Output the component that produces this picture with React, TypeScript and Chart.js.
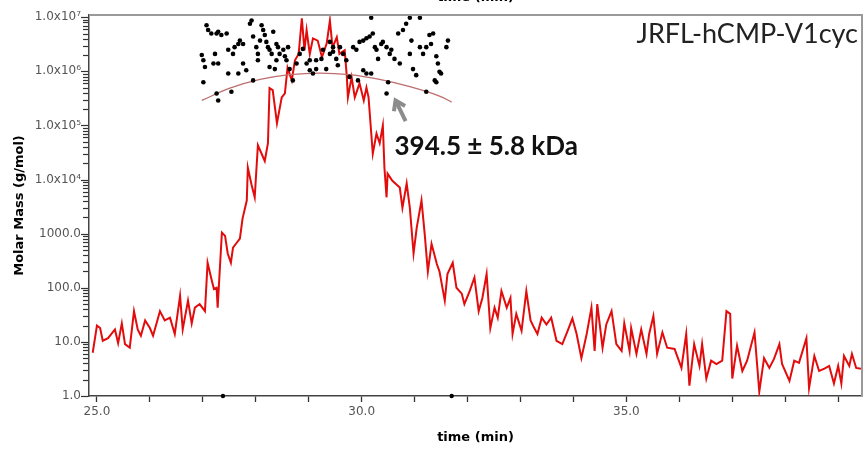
import React, { useEffect, useRef } from 'react';
import { Chart, registerables } from 'chart.js';

Chart.register(...registerables);

// Red trace: molar mass vs elution time
const redTime = [24.92, 25.0, 25.06, 25.11, 25.21, 25.34, 25.4, 25.47, 25.53, 25.62, 25.7, 25.77, 25.83, 25.91, 26.0, 26.06, 26.19, 26.28, 26.38, 26.47, 26.57, 26.62, 26.72, 26.79, 26.85, 26.94, 27.04, 27.09, 27.17, 27.21, 27.26, 27.28, 27.36, 27.42, 27.47, 27.53, 27.57, 27.64, 27.7, 27.75, 27.83, 27.85, 27.92, 27.98, 28.04, 28.11, 28.17, 28.23, 28.26, 28.32, 28.4, 28.49, 28.55, 28.6, 28.68, 28.74, 28.81, 28.87, 28.92, 28.96, 29.02, 29.08, 29.17, 29.25, 29.34, 29.4, 29.45, 29.53, 29.58, 29.68, 29.72, 29.74, 29.81, 29.87, 29.96, 30.04, 30.09, 30.13, 30.21, 30.28, 30.34, 30.4, 30.43, 30.47, 30.49, 30.58, 30.72, 30.77, 30.85, 30.91, 30.98, 31.04, 31.13, 31.19, 31.25, 31.32, 31.42, 31.47, 31.57, 31.62, 31.72, 31.79, 31.89, 31.94, 32.04, 32.13, 32.21, 32.28, 32.36, 32.43, 32.51, 32.57, 32.64, 32.74, 32.81, 32.85, 32.92, 33.02, 33.11, 33.19, 33.26, 33.32, 33.4, 33.49, 33.58, 33.68, 33.79, 33.89, 33.98, 34.06, 34.15, 34.25, 34.34, 34.4, 34.45, 34.55, 34.62, 34.72, 34.81, 34.91, 34.96, 35.06, 35.09, 35.19, 35.28, 35.38, 35.43, 35.51, 35.58, 35.68, 35.77, 35.91, 36.04, 36.13, 36.19, 36.28, 36.38, 36.43, 36.51, 36.6, 36.7, 36.81, 36.89, 36.96, 37.0, 37.09, 37.19, 37.28, 37.42, 37.51, 37.6, 37.7, 37.79, 37.89, 37.94, 38.08, 38.17, 38.26, 38.4, 38.45, 38.55, 38.64, 38.74, 38.83, 38.92, 39.0, 39.06, 39.11, 39.21, 39.26, 39.34, 39.43];
const redMass = [6.3, 20, 18, 10.5, 11.7, 17, 9.5, 22, 9.1, 7.8, 37, 17, 13, 25, 18, 13, 37, 25, 28, 14, 71, 17, 58, 22, 43, 50, 37, 290, 135, 95, 100, 43, 1050, 910, 430, 290, 550, 680, 810, 1900, 4100, 16600, 8000, 4700, 43000, 30000, 22000, 47000, 490000, 450000, 110000, 330000, 390000, 1170000, 680000, 1600000, 2100000, 9500000, 2450000, 5750000, 2100000, 4070000, 3700000, 1820000, 3300000, 8700000, 2750000, 4270000, 2100000, 2450000, 780000, 330000, 780000, 330000, 600000, 290000, 500000, 330000, 30000, 71000, 47000, 100000, 16600, 4700, 12900, 9500, 7100, 3000, 8500, 3000, 430, 1290, 4100, 1000, 200, 650, 275, 200, 58, 180, 290, 100, 78, 50, 87, 155, 37, 65, 180, 18, 43, 28, 87, 43, 65, 14, 33, 16, 87, 25, 18, 14, 28, 21, 28, 10.5, 9.1, 16, 27, 14, 5, 14, 43, 6.8, 50, 7.8, 21, 37, 9.1, 6.8, 22, 6.8, 18, 6.0, 17, 6.0, 14, 30, 6.0, 15, 7.8, 7.4, 3.3, 14, 1.55, 9.1, 3.6, 9.1, 2.1, 4.5, 3.9, 4.5, 37, 33, 2.1, 8.5, 2.9, 4.5, 15, 1.2, 5.0, 3.3, 4.9, 9.1, 3.9, 1.9, 4.5, 4.1, 11.7, 1.4, 5.5, 2.9, 3.2, 3.6, 1.7, 3.6, 1.7, 5.5, 3.6, 6.0, 3.3, 3.2];

// Black dots: per-slice molar mass
const dotTime = [27.07, 27.1, 27.16, 27.26, 27.29, 27.35, 27.45, 26.98, 27.01, 27.04, 27.01, 27.23, 27.2, 27.29, 27.26, 27.29, 27.48, 27.54, 27.57, 27.6, 27.67, 27.7, 27.76, 27.76, 27.82, 27.89, 27.92, 27.95, 28.01, 28.04, 28.08, 28.04, 28.11, 28.14, 28.17, 28.2, 28.23, 28.26, 28.3, 28.33, 28.39, 28.39, 28.42, 28.45, 28.52, 28.55, 28.58, 28.61, 27.95, 27.67, 27.48, 28.26, 28.36, 28.64, 28.77, 28.7, 28.83, 28.89, 28.96, 29.02, 29.14, 29.14, 29.24, 29.33, 29.4, 29.46, 29.52, 29.55, 29.59, 29.65, 29.71, 29.77, 29.84, 29.9, 29.93, 29.96, 30.03, 30.09, 30.15, 30.18, 30.21, 30.25, 30.28, 30.31, 30.37, 30.4, 30.47, 30.53, 30.56, 30.62, 30.69, 30.72, 30.78, 30.84, 30.91, 30.94, 30.97, 31.03, 31.1, 31.1, 31.16, 31.22, 31.28, 31.31, 31.35, 31.41, 31.44, 31.47, 31.5, 31.6, 31.63, 30.5, 30.47, 30.03, 30.09, 30.18, 31.22, 31.38, 31.41, 30.91, 29.4, 29.46, 29.27, 29.02, 29.08];
const dotMass = [7.1e6, 5.8e6, 5.0e6, 5.0e6, 5.4e6, 4.7e6, 5.0e6, 2.0e6, 1.6e6, 1.2e6, 6.3e5, 2.1e6, 1.4e6, 1.4e6, 3.9e5, 2.9e5, 2.5e6, 4.2e5, 2.1e6, 2.8e6, 3.2e6, 3.7e6, 3.2e6, 1.4e6, 1.05e6, 7.6e6, 8.7e6, 4.4e6, 2.8e6, 2.1e6, 3.7e6, 1.6e6, 7.1e6, 5.8e6, 4.7e6, 3.5e6, 2.8e6, 2.5e6, 2.1e6, 5.4e6, 3.2e6, 1.6e6, 2.8e6, 2.1e6, 2.5e6, 1.9e6, 1.6e6, 2.8e6, 6.8e5, 9.1e5, 9.1e5, 1.2e6, 1.1e6, 1.1e6, 1.4e6, 6.8e5, 2.1e6, 2.6e6, 1.4e6, 1.6e6, 1.1e6, 1.6e6, 1.7e6, 1.1e6, 2.1e6, 2.3e6, 1.7e6, 1.3e6, 2.8e6, 2.1e6, 1.6e6, 7.9e5, 2.8e6, 2.5e6, 6.8e5, 3.5e6, 3.7e6, 4.1e6, 4.4e6, 9.8e6, 5.0e6, 2.8e6, 2.5e6, 1.7e6, 3.2e6, 3.5e6, 2.8e6, 2.1e6, 2.5e6, 1.7e6, 5.0e6, 1.4e6, 5.8e6, 7.6e6, 9.8e6, 3.7e6, 1.1e6, 8.5e5, 9.8e6, 2.8e6, 2.1e6, 2.8e6, 4.7e6, 3.2e6, 5.0e6, 1.9e6, 1.4e6, 9.8e5, 9.1e5, 2.8e6, 3.7e6, 6.3e5, 3.9e5, 1.05e6, 9.1e5, 9.1e5, 4.2e5, 6.8e5, 6.3e5, 2.1e6, 3.5e6, 2.8e6, 2.5e6, 1.05e6, 9.1e5];

// Fitted curve across the peak
const fitTime = [26.98, 27.51, 28.08, 28.64, 29.21, 29.77, 30.34, 30.91, 31.47, 31.7];
const fitMass = [2.9e5, 4.9e5, 7.1e5, 8.7e5, 9.3e5, 8.7e5, 7.1e5, 5.2e5, 3.5e5, 2.7e5];

// Peak-limit marks on the time axis
const markTime = [27.38, 31.7];
const markMass = [1, 1];

// Axis ticks
const yTickValues = [1, 10, 100, 1000, 1e4, 1e5, 1e6, 1e7];
const yTickLabels = ['1.0', '10.0', '100.0', '1000.0', '1.0x10\u2074', '1.0x10\u2075', '1.0x10\u2076', '1.0x10\u2077'];
const yMinorSteps = [2, 3, 4, 5, 6, 7, 8, 9];
const xTickValues = [25, 30, 35];
const xTickLabels = ['25.0', '30.0', '35.0'];

// Texts and annotation anchors (data units)
const sampleName = 'JRFL-hCMP-V1cyc';
const massAnnotation = '394.5 \u00B1 5.8 kDa';
const annotationAnchor = [30.62, 2.8e4];
const arrowTail = [30.83, 1.2e5];
const arrowHead = [30.64, 2.9e5];
const xTitle = 'time (min)';
const yTitle = 'Molar Mass (g/mol)';

const toPoints = (xs: number[], ys: number[]) => xs.map((x, i) => ({ x, y: ys[i] }));

const overlayPlugin = {
  id: 'overlay',
  afterDatasetsDraw(chart: any) {
    const { ctx, chartArea, scales } = chart;
    ctx.save();
    ctx.strokeStyle = '#9a9a9a';
    ctx.lineWidth = 2;
    ctx.beginPath();
    ctx.moveTo(chartArea.left, chartArea.top);
    ctx.lineTo(chartArea.right, chartArea.top);
    ctx.lineTo(chartArea.right, chartArea.bottom);
    ctx.stroke();
    ctx.restore();
  },
  afterDraw(chart: any) {
    const { ctx, chartArea, scales } = chart;
    const xs = scales.x;
    const ys = scales.y;
    ctx.save();
    // y-axis tick comb (major + minor), placed through the log scale
    ctx.strokeStyle = '#333';
    ctx.lineWidth = 1.2;
    const x0 = ys.right - 1;
    const drawTick = (v: number, len: number) => {
      const py = Math.round(ys.getPixelForValue(v)) + 0.5;
      ctx.beginPath();
      ctx.moveTo(x0, py);
      ctx.lineTo(x0 - len, py);
      ctx.stroke();
    };
    yTickValues.forEach((d) => {
      drawTick(d, 7);
      if (d < 1e7) yMinorSteps.forEach((m) => drawTick(d * m, 5));
    });

    // cut-off duplicate axis title at the very top
    ctx.fillStyle = '#000';
    ctx.font = 'bold 13px "DejaVu Sans"';
    ctx.textAlign = 'center';
    ctx.textBaseline = 'middle';
    ctx.fillText(xTitle, (chartArea.left + chartArea.right) / 2, -2);

    // sample name
    ctx.fillStyle = '#222';
    ctx.font = '27px Lato';
    ctx.textAlign = 'right';
    ctx.textBaseline = 'alphabetic';
    ctx.fillText(sampleName, chartArea.right - 4, 43);

    // arrow
    const tx = xs.getPixelForValue(arrowTail[0]);
    const ty = ys.getPixelForValue(arrowTail[1]);
    const hx = xs.getPixelForValue(arrowHead[0]);
    const hy = ys.getPixelForValue(arrowHead[1]);
    ctx.strokeStyle = '#8c8c8c';
    ctx.lineWidth = 4;
    ctx.lineCap = 'butt';
    ctx.lineJoin = 'miter';
    ctx.beginPath();
    ctx.moveTo(tx, ty);
    ctx.lineTo(hx, hy);
    ctx.stroke();
    const ang = Math.atan2(hy - ty, hx - tx);
    const L = 11;
    ctx.beginPath();
    ctx.moveTo(hx - L * Math.cos(ang - 0.6), hy - L * Math.sin(ang - 0.6));
    ctx.lineTo(hx, hy);
    ctx.lineTo(hx - L * Math.cos(ang + 0.6), hy - L * Math.sin(ang + 0.6));
    ctx.stroke();

    // annotation text
    ctx.fillStyle = '#111';
    ctx.font = 'bold 26px Lato';
    ctx.textAlign = 'left';
    ctx.textBaseline = 'alphabetic';
    ctx.fillText(massAnnotation, xs.getPixelForValue(annotationAnchor[0]), ys.getPixelForValue(annotationAnchor[1]));
    ctx.restore();
  },
};

export default function App() {
  const ref = useRef<HTMLCanvasElement | null>(null);
  useEffect(() => {
    if (!ref.current) return;
    const chart = new Chart(ref.current, {
      type: 'scatter',
      data: {
        datasets: [
          {
            label: 'marks',
            data: toPoints(markTime, markMass),
            showLine: false,
            pointRadius: 2.2,
            pointBackgroundColor: '#000',
            pointBorderWidth: 0,
            clip: false,
            order: 0,
          },
          {
            label: 'slices',
            data: toPoints(dotTime, dotMass),
            showLine: false,
            pointRadius: 2.3,
            pointBackgroundColor: '#000',
            pointBorderWidth: 0,
            order: 1,
          },
          {
            label: 'fit',
            data: toPoints(fitTime, fitMass),
            showLine: true,
            borderColor: 'rgb(190,110,110)',
            borderWidth: 1.3,
            tension: 0.4,
            pointRadius: 0,
            order: 2,
          },
          {
            label: 'molar mass',
            data: toPoints(redTime, redMass),
            showLine: true,
            borderColor: 'rgb(226,12,12)',
            borderWidth: 2,
            tension: 0,
            pointRadius: 0,
            order: 3,
          },
        ],
      },
      options: {
        animation: false,
        responsive: false,
        events: [],
        layout: { padding: { top: 15, right: 4, left: 0, bottom: 0 } },
        plugins: { legend: { display: false }, tooltip: { enabled: false }, title: { display: false } },
        scales: {
          x: {
            type: 'linear',
            min: 24.85,
            max: 39.45,
            afterFit: (s: any) => { s.height = 53; },
            border: { display: true, color: '#444', width: 1.5 },
            grid: { display: true, drawOnChartArea: false, drawTicks: true, tickLength: 6, tickColor: '#333', tickWidth: 1.3 },
            ticks: {
              stepSize: 1,
              includeBounds: false,
              autoSkip: false,
              maxRotation: 0,
              padding: 3,
              color: '#555',
              font: { family: '"DejaVu Sans"', size: 12 },
              callback: (v: any) => {
                const i = xTickValues.findIndex((t) => Math.abs(t - Number(v)) < 1e-6);
                return i >= 0 ? xTickLabels[i] : '';
              },
            },
            title: { display: true, text: xTitle, color: '#000', font: { family: '"DejaVu Sans"', size: 13, weight: 'bold' }, padding: { top: 0, bottom: 4 } },
          },
          y: {
            type: 'logarithmic',
            min: 1,
            max: 1.1e7,
            afterFit: (s: any) => { s.width = 89; },
            afterBuildTicks: (s: any) => {
              s.ticks = yTickValues.map((d) => ({ value: d, major: true }));
            },
            border: { display: true, color: '#444', width: 1.5 },
            grid: { display: false, drawOnChartArea: false, drawTicks: true, tickLength: 7 },
            ticks: {
              autoSkip: false,
              padding: 1,
              color: '#555',
              font: { family: '"DejaVu Sans"', size: 12 },
              callback: (v: any) => {
                const lv = Math.log10(Number(v));
                const i = yTickValues.findIndex((t) => Math.abs(Math.log10(t) - lv) < 1e-6);
                return i >= 0 ? yTickLabels[i] : '';
              },
            },
            title: { display: true, text: yTitle, color: '#000', font: { family: '"DejaVu Sans"', size: 13, weight: 'bold' }, padding: { top: 12, bottom: 0 } },
          },
        },
      },
      plugins: [overlayPlugin],
    } as any);
    return () => chart.destroy();
  }, []);
  return (
    <div style={{ position: 'fixed', left: 0, top: 0, width: 866, height: 449, background: '#fff' }}>
      <canvas ref={ref} width={866} height={449} style={{ display: 'block' }} />
    </div>
  );
}
